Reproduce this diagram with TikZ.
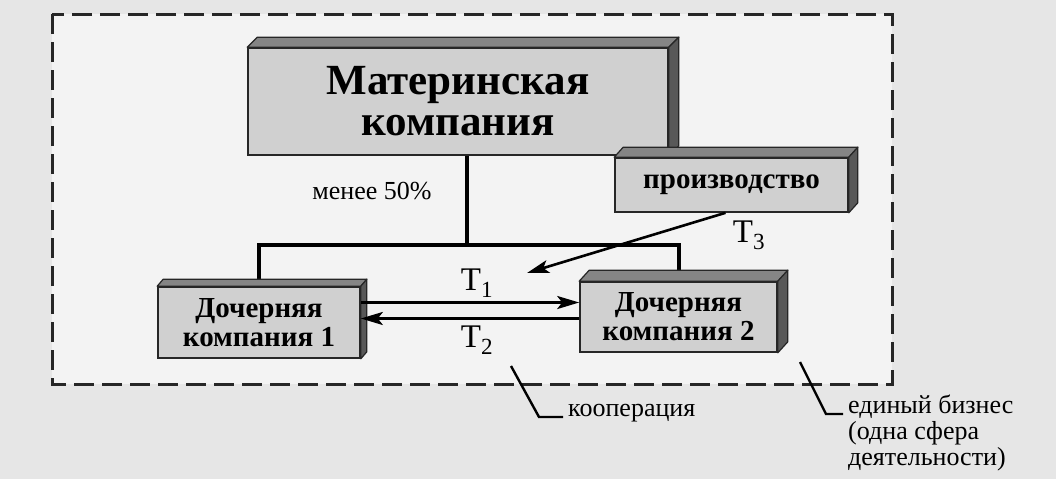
\documentclass[tikz,border=0pt]{standalone}
\usepackage{fontspec}
\setmainfont{Liberation Serif}
\usetikzlibrary{arrows.meta,calc}
\definecolor{pagebg}{HTML}{E6E6E6}
\definecolor{innerbg}{HTML}{F3F3F3}
\definecolor{facefill}{HTML}{D0D0D0}
\definecolor{topfill}{HTML}{858585}
\definecolor{sidefill}{HTML}{585858}
\newcommand\solidfaces[3]{%
  \path[topface] (#1.north west) -- ++(#2,-#3) -- ($(#1.north east)+(#2,-#3)$) -- (#1.north east) -- cycle;
  \path[sideface] (#1.north east) -- ++(#2,-#3) -- ($(#1.south east)+(#2,-#3)$) -- (#1.south east) -- cycle;}
\begin{document}
\begin{tikzpicture}[x=1pt,y=-1pt,
  solidbox/.style={draw=black!85, line width=1.6pt, fill=facefill, align=center, inner sep=0pt, font=\bfseries},
  topface/.style={fill=topfill, draw=black!85, line width=1.2pt, line join=round},
  sideface/.style={fill=sidefill, draw=black!85, line width=1.2pt, line join=round},
  treeline/.style={line width=4pt},
  flow/.style={line width=2.6pt, -{Stealth[length=22pt,width=13pt,inset=5pt]}},
  callout/.style={line width=2.4pt},
  dashrect/.style={line width=3pt, dash pattern=on 20pt off 8pt, black!85},
  lbl/.style={inner sep=0pt, font=\fontsize{26}{26}\selectfont},
  tlbl/.style={inner sep=0pt, font=\fontsize{33}{33}\selectfont}]
\fill[pagebg] (0,0) rectangle (1056,479);
\useasboundingbox (0,0) rectangle (1056,479);
\fill[innerbg] (52,14) rectangle (892,384);
\draw[dashrect] (52,14) rectangle (892,384);

% boxes
\node[solidbox, minimum width=420pt, minimum height=107pt, font=\bfseries\fontsize{43}{41}\selectfont] (m) at (458,101.5) {Материнская\\компания};
\node[solidbox, minimum width=233pt, minimum height=54pt, font=\bfseries\fontsize{29}{29}\selectfont] (p) at (731.5,185) {производство};
\node[solidbox, minimum width=202pt, minimum height=71pt, font=\bfseries\fontsize{29}{29}\selectfont] (d1) at (259,322.5) {Дочерняя\\компания 1};
\node[solidbox, minimum width=197pt, minimum height=70pt, font=\bfseries\fontsize{29}{29}\selectfont] (d2) at (678.5,317) {Дочерняя\\компания 2};

% tree
\coordinate (bus) at (467,245);
\draw[treeline] (m.south -| bus) -- (bus);
\draw[treeline] (d1.north) |- (bus) -| (d2.north);

% 3D faces
\solidfaces{m}{10}{10}
\solidfaces{p}{9}{10}
\solidfaces{d1}{6}{7}
\solidfaces{d2}{10}{11}

% flows
\draw[flow] ([yshift=20pt]d1.east) -- ([yshift=20pt]d1.east -| d2.west);
\draw[flow] ([yshift=4pt]d1.east -| d2.west) -- ([yshift=4pt]d1.east);
\coordinate (t3end) at (527,273);
\draw[flow] ([xshift=-6pt]p.south) -- (t3end);

% labels
\node[lbl] (pct) at (372,191) {менее 50\%};
\node[tlbl] (t1) at (477,283) {T\textsubscript{1}};
\node[tlbl] (t2) at (477,340) {T\textsubscript{2}};
\node[tlbl] (t3) at (749,235) {T\textsubscript{3}};

% callouts
\coordinate (c1a) at (511,366);
\coordinate (c1b) at (539,417);
\node[lbl, anchor=west] (coop) at (568,413) {кооперация};
\draw[callout] (c1a) -- (c1b) -- ([xshift=-5pt]coop.west |- c1b);
\coordinate (c2a) at (800,362);
\coordinate (c2b) at (826,414);
\node[lbl, anchor=north west, align=left, font=\fontsize{26}{26}\selectfont] (biz) at (848,395) {единый бизнес\\(одна сфера\\деятельности)};
\draw[callout] (c2a) -- (c2b) -- ([xshift=-5pt]biz.west |- c2b);
\end{tikzpicture}
\end{document}
